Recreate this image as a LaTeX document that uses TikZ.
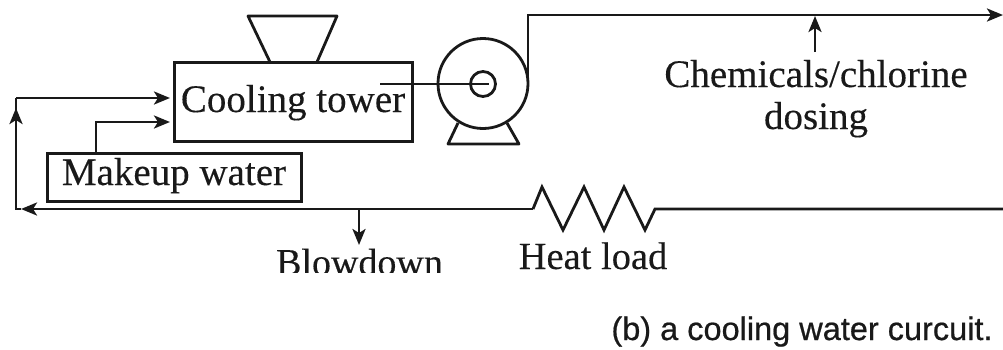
\documentclass[tikz,border=0pt]{standalone}
\usepackage{fontspec}
\setmainfont[FakeBold=0.25]{Liberation Serif}
\newfontfamily\capfont[FakeBold=0.6]{Liberation Sans}
\usetikzlibrary{arrows.meta}
\tikzset{
  pipe/.style={draw=black!90,line width=2.8pt,line join=miter},
  flow/.style={pipe,-{Stealth[length=16pt,width=13pt,inset=4pt]}},
  unit/.style={draw=black!90,line width=3pt,inner sep=0pt,minimum height=#1},
  shapeline/.style={draw=black!90,line width=2.8pt,line join=round},
  lbl/.style={inner sep=0pt,anchor=base,text=black!90},
}
\begin{document}
\begin{tikzpicture}[x=1pt,y=-1pt]
\useasboundingbox (0,0) rectangle (1003,349);
% units
\node[unit=79pt,minimum width=238pt] (tower) at (293,101.5) {};
\node[unit=48pt,minimum width=254pt] (makeup) at (174,177) {};
\node[lbl,font=\fontsize{39}{39}\selectfont] (towertxt) at (293,112) {Cooling tower};
\node[lbl,font=\fontsize{39}{39}\selectfont] (makeuptxt) at (174,185) {Makeup water};
% hopper
\draw[shapeline] (270,62) -- (248,16) -- (337,16) -- (317,62);
% pump
\node[circle,draw=black!90,line width=2.8pt,minimum size=90pt,inner sep=0pt] (pump) at (483,83.5) {};
\node[circle,draw=black!90,line width=2.8pt,minimum size=25pt,inner sep=0pt] (eye) at (483,84) {};
\coordinate (shaftL) at (380,84);
\coordinate (shaftR) at (489,84);
\draw[pipe] (shaftL) -- (shaftR);
\draw[shapeline] (458,123) -- (448,144) -- (519,144) -- (507,123);
% supply line
\coordinate (s0) at (528,80);
\coordinate (s1) at (528,15);
\coordinate (s2) at (1003,15);
\draw[flow] (s0) -- (s1) -- (s2);
% dosing
\coordinate (d0) at (815,52);
\coordinate (d1) at (815,16);
\draw[flow] (d0) -- (d1);
\node[lbl,font=\fontsize{39}{39}\selectfont] (chem) at (816,87) {Chemicals/chlorine};
\node[lbl,font=\fontsize{39}{39}\selectfont] (dos) at (816,129) {dosing};
% return line with heat load
\coordinate (r0) at (1003,209);
\coordinate (r1) at (655,209);
\coordinate (r2) at (533,209);
\coordinate (r3) at (21,209);
\coordinate (r4) at (16,209);
\draw[pipe] (r0) -- (r1) -- (645,230) -- (624,187) -- (604,230) -- (584,187) -- (563,230) -- (542,187) -- (r2);
\draw[flow] (r2) -- (r3);
\coordinate (u1) at (16,108);
\coordinate (u2) at (16,98);
\coordinate (u3) at (170,98);
\draw[pipe] (r3) -- (r4) -- (u2);
\draw[flow] (r4) -- (u1);
\draw[flow] (u2) -- (u3);
% makeup feed
\coordinate (m0) at (96,153);
\coordinate (m1) at (96,122);
\coordinate (m2) at (170,122);
\draw[flow] (m0) -- (m1) -- (m2);
% blowdown
\coordinate (b0) at (359,209);
\coordinate (b1) at (359,245);
\draw[flow] (b0) -- (b1);
\begin{scope}
\clip (200,240) rectangle (500,272.5);
\node[lbl,font=\fontsize{38}{38}\selectfont] (blow) at (359.5,275) {Blowdown};
\end{scope}
\node[lbl,font=\fontsize{38.5}{38.5}\selectfont] (heat) at (593,269) {Heat load};
\node[lbl,font=\capfont\fontsize{32.5}{32.5}\selectfont] (cap) at (802,340) {(b) a cooling water curcuit.};
\end{tikzpicture}
\end{document}
